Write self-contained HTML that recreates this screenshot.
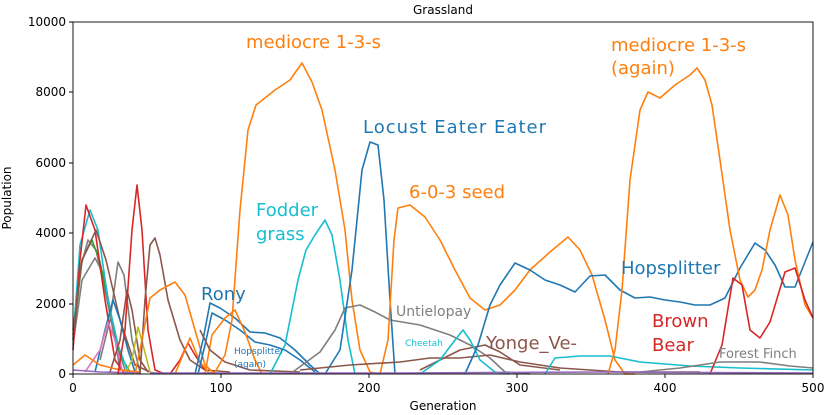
<!DOCTYPE html>
<html><head><style>body{margin:0;background:#fff}svg{display:block;font-family:"DejaVu Sans","Liberation Sans",sans-serif}</style></head>
<body>
<svg width="825" height="415" viewBox="0 0 825 415">
<rect width="825" height="415" fill="#fff"/>
<g fill="none" stroke-width="1.6" stroke-linejoin="round">
<polyline stroke="#7f7f7f" points="73,330 80,270 88,240 96,250 105,290 115,340 125,370"/>
<polyline stroke="#7f7f7f" points="73,345 82,280 95,258 104,275 112,320 120,370"/>
<polyline stroke="#7f7f7f" points="100,360 110,320 118,262 124,275 132,340 140,372"/>
<polyline stroke="#2ca02c" points="73,340 82,260 92,240 100,262 110,310 120,355 130,372"/>
<polyline stroke="#17becf" points="73,340 80,245 90,210 98,230 108,300 118,345 128,372"/>
<polyline stroke="#d62728" points="73,350 80,260 86,205 95,230 105,300 115,360 125,374"/>
<polyline stroke="#8c564b" points="73,335 82,260 96,230 106,260 120,320 135,365 150,372"/>
<polyline stroke="#1f77b4" points="95,372 105,330 113,300 120,320 128,350 135,372"/>
<polyline stroke="#e377c2" points="85,372 100,350 108,322 115,340 122,370"/>
<polyline stroke="#8c564b" points="110,372 120,340 127,290 132,310 140,360 148,372"/>
<polyline stroke="#bcbd22" points="125,374 132,360 138,327 143,345 150,372 160,374"/>
<polyline stroke="#ff7f0e" points="73,365 85,355 100,365 120,370 140,372"/>
<polyline stroke="#9467bd" points="73,370 100,372 140,373"/>
<polyline stroke="#d62728" points="118,374 125,330 132,230 137,185 142,230 148,330 155,370 165,374"/>
<polyline stroke="#8c564b" points="140,374 145,300 150,245 155,238 160,255 168,300 180,340 190,360 205,370 230,372"/>
<polyline stroke="#ff7f0e" points="135,374 142,340 150,298 160,290 175,282 185,295 195,330 205,365 215,374"/>
<polyline stroke="#d62728" points="170,374 180,360 188,343 195,355 205,370"/>
<polyline stroke="#ff7f0e" points="175,374 185,350 190,338 200,362 210,374"/>
<polyline stroke="#1f77b4" points="195,374 203,340 210,303 220,308 235,318 250,332 265,333 280,338 295,350 310,365 320,374"/>
<polyline stroke="#1f77b4" points="198,374 205,345 212,313 225,320 240,330 255,342 270,345 285,350 300,360 315,372"/>
<polyline stroke="#ff7f0e" points="205,374 212,335 225,318 235,310 245,332 255,360 262,374"/>
<polyline stroke="#8c564b" points="200,330 210,350 225,362 250,370 300,372"/>
<polyline stroke="#ff7f0e" points="205,374 215,372 225,355 232,320 240,210 248,130 256,105 265,98 275,90 290,80 302,63 312,82 322,110 335,170 345,230 352,300 360,350 370,372 380,374"/>
<polyline stroke="#17becf" points="270,374 285,345 298,280 306,250 315,235 325,220 332,235 340,280 348,340 355,374"/>
<polyline stroke="#7f7f7f" points="290,374 320,352 335,330 345,308 360,305 375,312 390,320 420,325 450,335 470,345 490,358 505,372 530,374"/>
<polyline stroke="#1f77b4" points="325,374 340,350 352,270 362,170 370,142 378,145 384,200 390,300 395,374"/>
<polyline stroke="#ff7f0e" points="380,374 388,340 394,240 398,208 410,205 425,217 440,240 455,270 470,298 485,310 500,305 515,290 530,270 550,252 568,237 580,250 592,275 605,320 615,360 625,374 635,374"/>
<polyline stroke="#8c564b" points="300,370 350,365 400,362 430,358 460,358 490,355 520,362 560,368 620,372 700,372"/>
<polyline stroke="#8c564b" points="420,370 460,350 485,345 500,352 520,365 560,370"/>
<polyline stroke="#17becf" points="420,374 440,360 455,340 463,330 470,340 480,360 495,372 510,374"/>
<polyline stroke="#17becf" points="545,374 555,358 580,356 610,356 640,362 690,366 740,368 813,370"/>
<polyline stroke="#1f77b4" points="465,374 478,345 490,305 500,285 515,263 530,270 545,280 560,285 575,292 590,276 605,275 620,290 635,298 650,297 665,300 680,302 695,305 710,305 725,298 740,268 755,243 765,250 775,265 785,287 795,287 805,262 813,242"/>
<polyline stroke="#ff7f0e" points="608,374 615,350 622,290 630,180 640,110 648,92 660,98 675,85 690,75 697,68 705,80 712,105 720,160 730,230 740,280 748,297 755,290 762,270 770,230 780,195 788,215 795,260 805,305 813,318"/>
<polyline stroke="#d62728" points="710,374 722,345 733,278 742,285 750,330 760,338 770,322 785,272 795,268 805,300 813,318"/>
<polyline stroke="#7f7f7f" points="640,372 680,368 720,362 760,362 790,366 813,368"/>
<polyline stroke="#9467bd" points="150,373 400,373 600,372 813,373"/>
</g>
<g stroke="#000" stroke-width="0.9" fill="none">
<rect x="73" y="22" width="740" height="352"/>
<path d="M73,374v4M221,374v4M369,374v4M517,374v4M665,374v4M813,374v4M73,374h-4M73,304h-4M73,233h-4M73,163h-4M73,92h-4M73,22h-4"/>
</g>
<g font-size="12" fill="#000">
<text x="443" y="14" text-anchor="middle">Grassland</text>
<g text-anchor="middle"><text x="73" y="392">0</text><text x="221" y="392">100</text><text x="369" y="392">200</text><text x="517" y="392">300</text><text x="665" y="392">400</text><text x="813" y="392">500</text></g>
<text x="443" y="410" text-anchor="middle">Generation</text>
<g text-anchor="end"><text x="66" y="378">0</text><text x="66" y="308">2000</text><text x="66" y="237">4000</text><text x="66" y="167">6000</text><text x="66" y="96">8000</text><text x="66" y="26">10000</text></g>
<text transform="translate(11,198) rotate(-90)" text-anchor="middle">Population</text>
</g>
<g font-size="18">
<text x="246" y="48" fill="#ff7f0e">mediocre 1-3-s</text>
<text x="611" y="51" fill="#ff7f0e">mediocre 1-3-s</text>
<text x="611" y="74" fill="#ff7f0e">(again)</text>
<text x="363" y="133" fill="#1f77b4" textLength="183" lengthAdjust="spacing">Locust Eater Eater</text>
<text x="409" y="198" fill="#ff7f0e">6-0-3 seed</text>
<text x="256" y="216" fill="#17becf">Fodder</text>
<text x="256" y="240" fill="#17becf">grass</text>
<text x="201" y="300" fill="#1f77b4">Rony</text>
<text x="621" y="274" fill="#1f77b4">Hopsplitter</text>
<text x="486" y="349" fill="#8c564b">Yonge_Ve-</text>
<text x="652" y="327" fill="#d62728">Brown</text>
<text x="652" y="351" fill="#d62728">Bear</text>
</g>
<text x="396" y="316" font-size="14" fill="#7f7f7f">Untielopay</text>
<text x="719" y="358" font-size="13" fill="#7f7f7f">Forest Finch</text>
<text x="405" y="346" font-size="9" fill="#17becf">Cheetah</text>
<text x="234" y="354" font-size="9" fill="#1f77b4">Hopsplitter</text>
<text x="234" y="367" font-size="9" fill="#1f77b4">(again)</text>
</svg>
</body></html>
